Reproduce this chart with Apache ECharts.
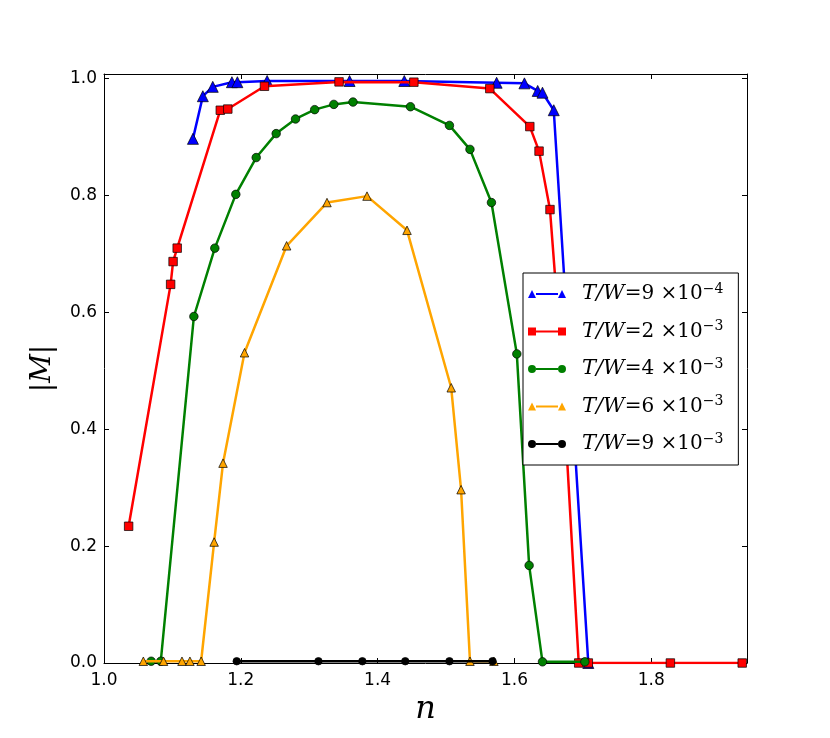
<!DOCTYPE html>
<html>
<head>
<meta charset="utf-8">
<script src="https://cdn.jsdelivr.net/npm/echarts@6/dist/echarts.min.js"></script>
<style>html,body{margin:0;padding:0;background:#fff}#c{width:830px;height:738px}</style>
</head>
<body>
<div id="c"></div>
<script>
// ---- data ----
const xTicks = [1.0, 1.2, 1.4, 1.6, 1.8];
const yTicks = [0.0, 0.2, 0.4, 0.6, 0.8, 1.0];

const blueX = [1.130, 1.1445, 1.159, 1.187, 1.195, 1.2385, 1.359, 1.439, 1.574, 1.6146, 1.634, 1.641, 1.6575, 1.708];
const blueY = [0.897, 0.970, 0.986, 0.994, 0.994, 0.996, 0.996, 0.996, 0.993, 0.992, 0.979, 0.976, 0.946, 0.0];

const redX = [1.036, 1.0974, 1.101, 1.107, 1.170, 1.181, 1.2346, 1.3436, 1.453, 1.564, 1.6225, 1.636, 1.652, 1.669, 1.694, 1.708, 1.828, 1.933];
const redY = [0.234, 0.648, 0.687, 0.710, 0.946, 0.948, 0.987, 0.9945, 0.994, 0.983, 0.918, 0.876, 0.776, 0.514, 0.0, 0.0, 0.0, 0.0];

const greenX = [1.069, 1.083, 1.1314, 1.162, 1.1927, 1.2225, 1.2517, 1.280, 1.308, 1.336, 1.364, 1.448, 1.505, 1.535, 1.5664, 1.6035, 1.6215, 1.641, 1.703];
const greenY = [0.003, 0.003, 0.593, 0.710, 0.802, 0.865, 0.906, 0.931, 0.947, 0.956, 0.960, 0.952, 0.920, 0.879, 0.788, 0.529, 0.167, 0.002, 0.002];

const orangeX = [1.0575, 1.087, 1.114, 1.1256, 1.142, 1.161, 1.174, 1.2054, 1.267, 1.326, 1.3845, 1.443, 1.5076, 1.522, 1.535, 1.570];
const orangeY = [0.003, 0.003, 0.003, 0.003, 0.003, 0.207, 0.342, 0.531, 0.714, 0.788, 0.799, 0.7405, 0.471, 0.2966, 0.003, 0.003];

const blackX = [1.194, 1.3135, 1.3777, 1.4404, 1.505, 1.568];
const blackY = [0.003, 0.003, 0.003, 0.003, 0.003, 0.003];

const seriesNames = ['T/W=9 ×10^-4', 'T/W=2 ×10^-3', 'T/W=4 ×10^-3', 'T/W=6 ×10^-3', 'T/W=9 ×10^-3'];
const mantissas = ['9', '2', '4', '6', '9'];
const exponents = ['−4', '−3', '−3', '−3', '−3'];
const colors = ['#0000ff', '#ff0000', '#008000', '#ffa500', '#000000'];
const symbols = ['triangle', 'rect', 'circle', 'triangle', 'circle'];
const symbolSizes = [11, 8.5, 8.5, 8.5, 7.5];

// ---- build ----
const xs = [blueX, redX, greenX, orangeX, blackX];
const ys = [blueY, redY, greenY, orangeY, blackY];
const zip = (a, b) => a.map((v, i) => [v, b[i]]);

const triIcon = 'path://M0,9 L4,1 L8,9 Z M30,9 L34,1 L38,9 Z M8,4.1 L30,4.1 L30,5.9 L8,5.9 Z';
const rectIcon = 'path://M0,1 L8,1 L8,9 L0,9 Z M30,1 L38,1 L38,9 L30,9 Z M8,4.1 L30,4.1 L30,5.9 L8,5.9 Z';
const circIcon = 'path://M0,5 A4,4 0 1,0 8,5 A4,4 0 1,0 0,5 Z M30,5 A4,4 0 1,0 38,5 A4,4 0 1,0 30,5 Z M8,4.1 L30,4.1 L30,5.9 L8,5.9 Z';
const icons = [triIcon, rectIcon, circIcon, triIcon, circIcon];

const series = seriesNames.map((n, i) => ({
  name: n,
  type: 'line',
  xAxisIndex: 0,
  yAxisIndex: 0,
  data: zip(xs[i], ys[i]),
  symbol: symbols[i],
  symbolSize: symbolSizes[i],
  showAllSymbol: true,
  lineStyle: { color: colors[i], width: 2.5 },
  itemStyle: { color: colors[i], borderColor: '#000', borderWidth: 0.7 },
  emphasis: { disabled: true },
  animation: false,
  z: 2 + i * 0.01
}));

const fmt1 = v => v.toFixed(1);
const axisCommon = {
  type: 'value',
  splitLine: { show: false },
  axisLine: { show: true, onZero: false, lineStyle: { color: '#000', width: 1 } },
  axisTick: { show: true, inside: true, length: 5, lineStyle: { color: '#000', width: 1 } }
};

const chart = echarts.init(document.getElementById('c'));
chart.setOption({
  animation: false,
  backgroundColor: '#fff',
  grid: { left: 104, right: 83, top: 74, bottom: 75, containLabel: false },
  xAxis: [
    Object.assign({}, axisCommon, {
      position: 'bottom', min: 1.0, max: 1.94, interval: 0.2,
      axisLabel: { show: true, formatter: fmt1, showMaxLabel: false, fontFamily: 'DejaVu Sans', fontSize: 17, color: '#000', margin: 9 },
      name: 'n', nameLocation: 'middle', nameGap: 12,
      nameTextStyle: { fontFamily: 'DejaVu Serif', fontStyle: 'italic', fontSize: 32, color: '#000' }
    }),
    Object.assign({}, axisCommon, {
      position: 'top', min: 1.0, max: 1.94, interval: 0.2,
      axisLabel: { show: false }
    })
  ],
  yAxis: [
    Object.assign({}, axisCommon, {
      position: 'left', min: 0, max: 1.008, interval: 0.2,
      axisLabel: { show: true, formatter: fmt1, showMaxLabel: false, fontFamily: 'DejaVu Sans', fontSize: 17, color: '#000', margin: 7 },
      name: '{a||}{m|M}{a||}', nameLocation: 'middle', nameGap: 47, nameRotate: 90,
      nameTextStyle: {
        color: '#000',
        rich: {
          a: { fontFamily: 'DejaVu Serif', fontSize: 28, color: '#000' },
          m: { fontFamily: 'DejaVu Serif', fontStyle: 'italic', fontSize: 28, color: '#000' }
        }
      }
    }),
    Object.assign({}, axisCommon, {
      position: 'right', min: 0, max: 1.008, interval: 0.2,
      axisLabel: { show: false }
    })
  ],
  legend: {
    orient: 'vertical',
    left: 523, top: 273,
    itemWidth: 38, itemHeight: 8, itemGap: 13.5,
    padding: [9, 15, 9, 5],
    borderColor: '#000', borderWidth: 1, borderRadius: 0,
    backgroundColor: '#fff',
    selectedMode: false,
    itemStyle: { borderWidth: 0 },
    data: seriesNames.map((n, i) => ({ name: n, icon: icons[i] })),
    formatter: function (name) {
      const i = seriesNames.indexOf(name);
      return '{i|T/W}{r|=' + mantissas[i] + ' ×10}{s|' + exponents[i] + '}';
    },
    textStyle: {
      padding: [0, 0, 0, 11],
      rich: {
        i: { fontFamily: 'DejaVu Serif', fontStyle: 'italic', fontSize: 21, lineHeight: 24, color: '#000', verticalAlign: 'middle' },
        r: { fontFamily: 'DejaVu Serif', fontSize: 20, lineHeight: 24, color: '#000', verticalAlign: 'middle' },
        s: { fontFamily: 'DejaVu Serif', fontSize: 14, lineHeight: 24, color: '#000', verticalAlign: 'top', padding: [0, 0, 10, 0] }
      }
    }
  },
  series: series
});
</script>
</body>
</html>
